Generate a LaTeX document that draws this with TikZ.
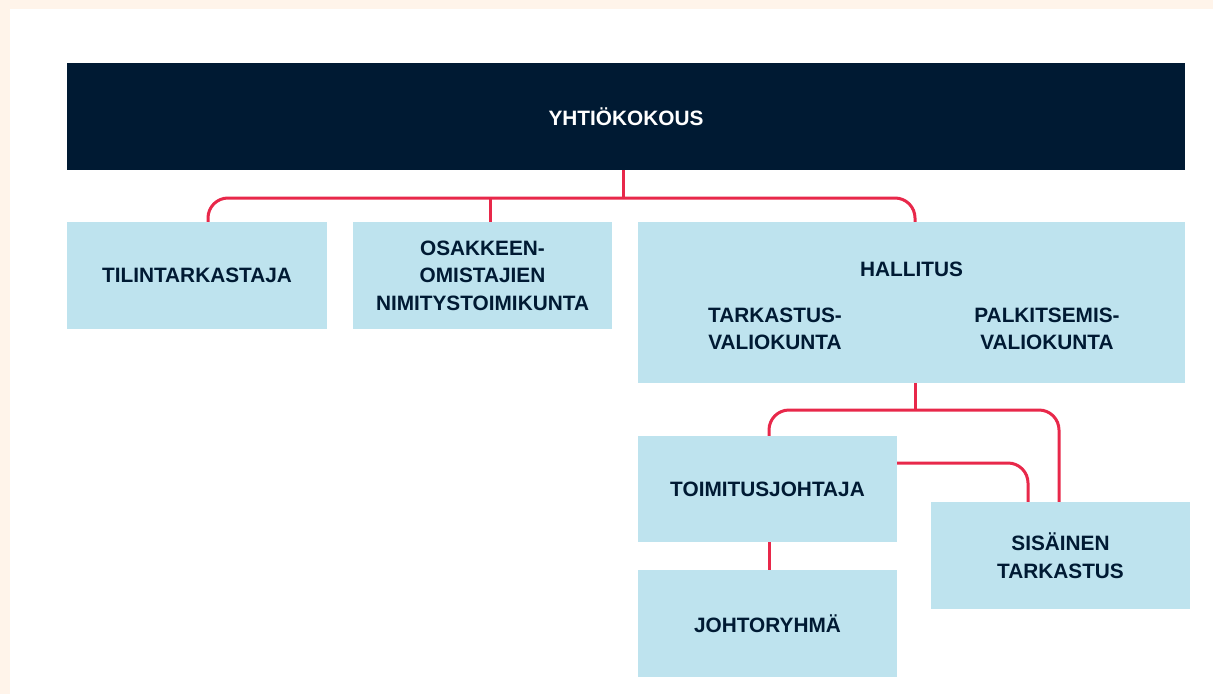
\documentclass[tikz,border=0pt]{standalone}
\usepackage{fontspec}
\setmainfont{Liberation Sans}
\usepackage{tikz}
\usetikzlibrary{calc}
\definecolor{navy}{HTML}{001A33}
\definecolor{sky}{HTML}{BEE3EE}
\definecolor{rose}{HTML}{E8284A}
\definecolor{peach}{HTML}{FFF4EA}
\pgfdeclarelayer{bglayer}
\pgfdeclarelayer{nodelayer}
\pgfdeclarelayer{edgelayer}
\pgfsetlayers{bglayer,edgelayer,nodelayer,main}
\tikzstyle{none}=[inner sep=0pt]
\tikzstyle{txt}=[inner sep=0pt, align=center, text=navy, font=\fontsize{20.8}{27.5}\selectfont\bfseries]
\tikzstyle{unit}=[shape=rectangle, fill=sky, txt, minimum width=259, minimum height=107]
\tikzstyle{head}=[unit, fill=navy, text=white, minimum width=1118]
\tikzstyle{link}=[draw=rose, line width=3pt, rounded corners=20pt]

\begin{document}
\begin{tikzpicture}[x=1pt, y=-1pt]
	\useasboundingbox (0,0) rectangle (1213,694);
	\begin{pgfonlayer}{bglayer}
		\fill[peach] (0,0) rectangle (1213,694);
		\fill[white] (10,9) rectangle (1213,694);
	\end{pgfonlayer}
	\begin{pgfonlayer}{nodelayer}
		\node [style=head] (0) at (626, 116.5) {YHTIÖKOKOUS};
		\node [style=unit, minimum width=260] (1) at (197, 275.5) {TILINTARKASTAJA};
		\node [style=unit] (2) at (482.5, 275.5) {OSAKKEEN-\\OMISTAJIEN\\NIMITYSTOIMIKUNTA};
		\node [style=unit, minimum width=547, minimum height=161] (3) at (911.5, 302.5) {};
		\node [style=unit, minimum height=106] (4) at (767.5, 489) {TOIMITUSJOHTAJA};
		\node [style=unit] (5) at (1060.5, 555.5) {SISÄINEN\\TARKASTUS};
		\node [style=unit] (6) at (767.5, 623.5) {JOHTORYHMÄ};
		\node [style=txt] (7) at (911.5, 269) {HALLITUS};
		\node [style=txt] (8) at (775, 329) {TARKASTUS-\\VALIOKUNTA};
		\node [style=txt] (9) at (1047, 329) {PALKITSEMIS-\\VALIOKUNTA};
	\end{pgfonlayer}
	\begin{pgfonlayer}{edgelayer}
		\coordinate (b1) at (623, 198);
		\coordinate (b2) at (915, 410);
		\draw [style=link] (b1 |- 0.south) to (b1);
		\draw [style=link] ([xshift=11]1.north) |- (b1) -| ([xshift=3.5]3.north);
		\draw [style=link] ([xshift=7.5]2.north) to ([xshift=7.5]2.north |- b1);
		\draw [style=link] (b2 |- 3.south) to (b2);
		\draw [style=link] ([xshift=1.5]4.north) |- (b2) -| ([xshift=-1.5]5.north);
		\draw [style=link] ([yshift=26]4.east) -| ([xshift=-32.5]5.north);
		\draw [style=link] ([xshift=1.5]4.south) to ([xshift=1.5]6.north);
	\end{pgfonlayer}
\end{tikzpicture}
\end{document}
